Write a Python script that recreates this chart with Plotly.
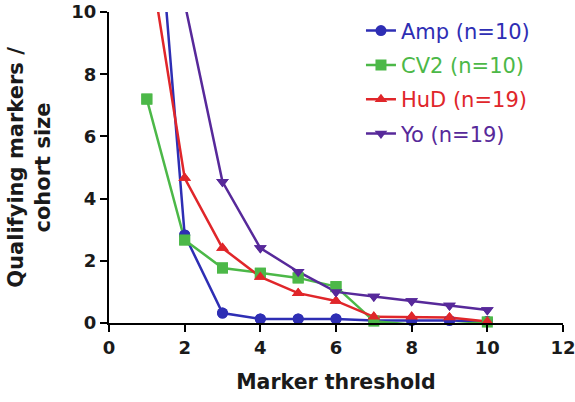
import plotly.graph_objects as go

thresholds = [1, 2, 3, 4, 5, 6, 7, 8, 9, 10]
amp = [17.8, 2.83, 0.32, 0.13, 0.13, 0.13, 0.08, 0.08, 0.08, 0.05]
cv2 = [7.2, 2.67, 1.77, 1.6, 1.45, 1.17, 0.06, -0.05, -0.05, 0.03]
hud = [12.3, 4.66, 2.41, 1.48, 0.96, 0.71, 0.2, 0.2, 0.18, 0.05]
yo = [20.0, 10.29, 4.54, 2.41, 1.65, 1.0, 0.85, 0.71, 0.56, 0.42]

names = ["Amp (n=10)", "CV2 (n=10)", "HuD (n=19)", "Yo (n=19)"]
series = [amp, cv2, hud, yo]
colors = ["#2e2eb4", "#4cb848", "#e0262a", "#57299a"]
symbols = ["circle", "square", "triangle-up", "triangle-down"]

FONT = "DejaVu Sans"

fig = go.Figure()
for i, (nm, vals, col, sym) in enumerate(zip(names, series, colors, symbols)):
    fig.add_trace(go.Scatter(
        x=thresholds, y=vals, mode="lines+markers",
        name=f"<span style='color:{col}'>{nm}</span>",
        line=dict(color=col, width=2.5),
        marker=dict(symbol=sym, size=11, color=col),
        cliponaxis=True, legendgroup=f"g{i}",
    ))
for i, (vals, col, sym) in enumerate(zip(series, colors, symbols)):
    xs = [t for t, v in zip(thresholds, vals) if v <= 10]
    ys = [v for v in vals if v <= 10]
    fig.add_trace(go.Scatter(
        x=xs, y=ys, mode="markers", showlegend=False,
        marker=dict(symbol=sym, size=11, color=col),
        cliponaxis=False, hoverinfo="skip",
    ))

tick_font = dict(family=FONT, size=18, color="#1a1a1a")
title_font_x = dict(family=FONT, size=20.5, color="#1a1a1a")
title_font_y = dict(family=FONT, size=21, color="#1a1a1a")
xt = [0, 2, 4, 6, 8, 10, 12]
yt = [0, 2, 4, 6, 8, 10]
fig.update_layout(
    width=575, height=402,
    margin=dict(l=109, r=12, t=12, b=79, autoexpand=False),
    paper_bgcolor="white", plot_bgcolor="white",
    font=dict(family=FONT, color="#1a1a1a"),
    legend=dict(
        x=0.555, y=1.005, xanchor="left", yanchor="top",
        font=dict(size=21, family=FONT),
        tracegroupgap=4, traceorder="grouped", bgcolor="rgba(0,0,0,0)",
    ),
    xaxis=dict(
        range=[0, 12], tickvals=xt, ticktext=[f"<b>{v}</b>" for v in xt],
        showline=True, linecolor="black", linewidth=2,
        ticks="outside", ticklen=7, tickwidth=2, tickcolor="black",
        showgrid=False, zeroline=False, tickfont=tick_font, automargin=False,
        ticklabeloverflow="allow",
        title=dict(text="<b>Marker threshold</b>", font=title_font_x, standoff=18),
    ),
    yaxis=dict(
        range=[0, 10], tickvals=yt, ticktext=[f"<b>{v}</b>" for v in yt],
        showline=True, linecolor="black", linewidth=2,
        ticks="outside", ticklen=7, tickwidth=2, tickcolor="black",
        showgrid=False, zeroline=False, tickfont=tick_font, automargin=False,
        ticklabeloverflow="allow",
        title=dict(text="<b>Qualifying markers /<br>cohort size</b>", font=title_font_y, standoff=15),
    ),
)
fig.write_html("out.html")
